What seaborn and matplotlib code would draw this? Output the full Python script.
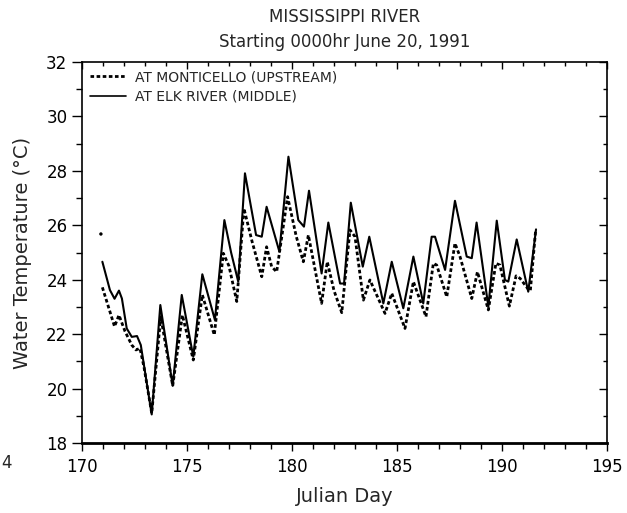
import matplotlib
matplotlib.use("Agg")
import matplotlib.pyplot as plt
import seaborn as sns
import pandas as pd
from matplotlib.ticker import MultipleLocator
from matplotlib.lines import Line2D

# Monticello (upstream) – dotted
mont_day = [170.97, 171.3, 171.55, 171.76, 172.05, 172.37, 172.57, 172.76, 172.95, 173.32,
            173.75, 174.32, 174.78, 175.3, 175.73, 176.3, 176.73, 177.0, 177.37, 177.71,
            178.1, 178.56, 178.79, 179.03, 179.27, 179.79, 180.2, 180.54, 180.78, 181.41,
            181.68, 182.0, 182.37, 182.76, 183.0, 183.4, 183.71, 184.43, 184.75, 185.38,
            185.78, 186.38, 186.73, 186.89, 187.37, 187.76, 188.0, 188.56, 188.83, 189.35,
            189.71, 189.9, 190.35, 190.67, 190.86, 191.25, 191.35, 191.6]
mont_temp = [23.72, 22.9, 22.28, 22.7, 22.1, 21.6, 21.42, 21.48, 20.8, 19.09,
             22.64, 20.1, 22.7, 21.05, 23.44, 21.97, 24.97, 24.5, 23.2, 26.62,
             25.4, 24.11, 25.21, 24.48, 24.29, 27.05, 25.6, 24.66, 25.64, 23.13,
             24.66, 23.6, 22.79, 25.83, 25.58, 23.25, 23.99, 22.76, 23.5, 22.21,
             23.93, 22.64, 24.6, 24.54, 23.37, 25.34, 24.85, 23.31, 24.29, 22.89,
             24.6, 24.54, 23.03, 24.14, 24.05, 23.65, 23.6, 25.8]

# Elk River (middle) – solid
elk_day = [170.97, 171.33, 171.55, 171.76, 171.9, 172.13, 172.37, 172.62, 172.8, 173.32,
           173.73, 174.32, 174.75, 175.3, 175.73, 176.33, 176.78, 177.1, 177.44, 177.76,
           178.29, 178.56, 178.79, 179.4, 179.83, 180.3, 180.57, 180.81, 181.41, 181.73,
           182.29, 182.48, 182.8, 183.37, 183.68, 184.35, 184.75, 185.3, 185.78, 186.25,
           186.65, 186.81, 187.29, 187.76, 188.32, 188.56, 188.79, 189.35, 189.75, 190.14,
           190.3, 190.7, 191.25, 191.62]
elk_temp = [24.66, 23.62, 23.3, 23.6, 23.31, 22.21, 21.9, 21.93, 21.6, 19.05,
            23.07, 20.1, 23.44, 21.17, 24.2, 22.52, 26.19, 25.0, 23.93, 27.91,
            25.64, 25.58, 26.68, 25.03, 28.52, 26.19, 25.95, 27.27, 24.23, 26.1,
            23.86, 23.86, 26.83, 24.48, 25.58, 23.13, 24.66, 22.95, 24.85, 23.13,
            25.58, 25.58, 24.36, 26.9, 24.85, 24.79, 26.1, 23.01, 26.17, 23.99,
            23.93, 25.48, 23.56, 25.85]

# isolated reading near the start
stray_day = [170.9]
stray_temp = [25.68]

x_ticks = [170, 175, 180, 185, 190, 195]
y_ticks = [18, 20, 22, 24, 26, 28, 30, 32]

sns.set_theme(style="ticks")
plt.rcParams['font.family'] = ['DejaVu Sans']

fig = plt.figure(figsize=(6.27, 5.13), dpi=100)
ax = fig.add_axes([82/627, 1-443/513, (607-82)/627, (443-62)/513])

df_m = pd.DataFrame({"day": mont_day, "temp": mont_temp})
df_e = pd.DataFrame({"day": elk_day, "temp": elk_temp})
sns.lineplot(data=df_m, x="day", y="temp", ax=ax, color="black", lw=2.0,
             linestyle=(0, (1.3, 0.9)), estimator=None, sort=False)
sns.lineplot(data=df_e, x="day", y="temp", ax=ax, color="black", lw=1.5,
             estimator=None, sort=False)
sns.scatterplot(x=stray_day, y=stray_temp, ax=ax, color="black", s=6, edgecolor="none")

ax.set_xlim(170, 195)
ax.set_ylim(18, 32)
ax.set_xticks(x_ticks)
ax.set_xticklabels([str(t) for t in x_ticks])
ax.set_yticks(y_ticks)
ax.set_yticklabels([str(t) for t in y_ticks])
ax.xaxis.set_minor_locator(MultipleLocator(1))
ax.yaxis.set_minor_locator(MultipleLocator(1))

for s in ax.spines.values():
    s.set_visible(True)
    s.set_color("black")
    s.set_linewidth(1.2)
ax.spines["bottom"].set_linewidth(2.0)

ax.tick_params(axis="both", which="both", top=False, right=False, colors="black",
               labelsize=12, width=1.0)
ax.tick_params(axis="y", which="major", direction="out", length=7)
ax.tick_params(axis="y", which="minor", direction="out", length=4)
ax.tick_params(axis="x", which="major", direction="out", length=6, pad=5)
ax.tick_params(axis="x", which="minor", direction="out", length=4)
ax.grid(False)

# inward ticks on top and right
axt = ax.twiny()
axt.set_xlim(ax.get_xlim())
axt.set_xticks(x_ticks)
axt.xaxis.set_minor_locator(MultipleLocator(1))
axt.tick_params(axis="x", which="both", top=True, bottom=False, labeltop=False,
                labelbottom=False, direction="in", width=1.0, colors="black")
axt.tick_params(axis="x", which="major", length=5)
axt.tick_params(axis="x", which="minor", length=3)
axr = ax.twinx()
axr.set_ylim(ax.get_ylim())
axr.set_yticks(y_ticks)
axr.yaxis.set_minor_locator(MultipleLocator(1))
axr.tick_params(axis="y", which="both", right=True, left=False, labelright=False,
                labelleft=False, direction="in", width=1.0, colors="black")
axr.tick_params(axis="y", which="major", length=6)
axr.tick_params(axis="y", which="minor", length=3)
for a in (axt, axr):
    a.grid(False)
    for s in a.spines.values():
        s.set_visible(False)

ax.set_xlabel("Julian Day", fontsize=14, labelpad=8)
ax.set_ylabel("Water Temperature (°C)", fontsize=14, labelpad=10)

handles = [Line2D([], [], color="black", lw=2.0, linestyle=(0, (1.3, 0.9))),
           Line2D([], [], color="black", lw=1.2)]
ax.legend(handles, ["AT MONTICELLO (UPSTREAM)", "AT ELK RIVER (MIDDLE)"],
          loc="upper left", frameon=False, fontsize=10, handlelength=2.6,
          handletextpad=0.6, borderaxespad=0.2, labelspacing=0.4,
          bbox_to_anchor=(0.0, 1.0))

fig.text(345/627, 1-17/513, "MISSISSIPPI RIVER", ha="center", va="center", fontsize=12)
fig.text(345/627, 1-42/513, "Starting 0000hr June 20, 1991", ha="center", va="center", fontsize=12)
fig.text(6/627, 1-463/513, "4", ha="center", va="center", fontsize=12)

fig.savefig("out.png", dpi=100)
